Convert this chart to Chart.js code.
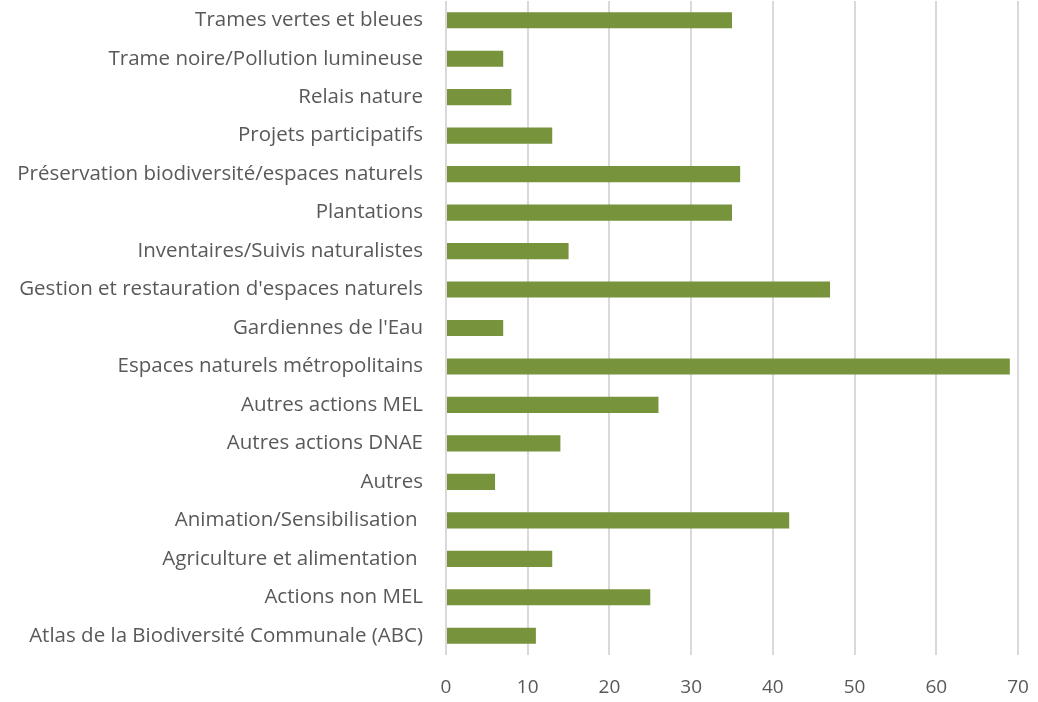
<!DOCTYPE html>
<html>
<head>
<meta charset="utf-8">
<script src="https://cdn.jsdelivr.net/npm/chart.js@4/dist/chart.umd.min.js"></script>
<style>
  html, body { margin: 0; padding: 0; background: #fff; }
  #wrap { width: 1038px; height: 702px; }
</style>
</head>
<body>
<div id="wrap"><canvas id="barChart"></canvas></div>
<script>
const categories = [
  "Trames vertes et bleues",
  "Trame noire/Pollution lumineuse",
  "Relais nature",
  "Projets participatifs",
  "Préservation biodiversité/espaces naturels",
  "Plantations",
  "Inventaires/Suivis naturalistes",
  "Gestion et restauration d'espaces naturels",
  "Gardiennes de l'Eau",
  "Espaces naturels métropolitains",
  "Autres actions MEL",
  "Autres actions DNAE",
  "Autres",
  "Animation/Sensibilisation ",
  "Agriculture et alimentation ",
  "Actions non MEL",
  "Atlas de la Biodiversité Communale (ABC)"
]
const counts = [35, 7, 8, 13, 36, 35, 15, 47, 7, 69, 26, 14, 6, 42, 13, 25, 11]
const xTicks = [0, 10, 20, 30, 40, 50, 60, 70]

const ctx = document.getElementById('barChart').getContext('2d')
const myChart = new Chart(ctx, {
  type: 'bar',
  data: {
    labels: categories,
    datasets: [{
      label: 'Nombre',
      data: counts,
      backgroundColor: '#77933C',
      borderWidth: 0,
      barPercentage: 0.42,
      categoryPercentage: 1
    }]
  },
  options: {
    indexAxis: 'y',
    responsive: true,
    maintainAspectRatio: false,
    animation: false,
    layout: { padding: { top: 1, right: 20, left: 0, bottom: 0 } },
    plugins: {
      legend: { display: false },
      tooltip: { enabled: false }
    },
    scales: {
      x: {
        min: 0,
        max: 70,
        afterBuildTicks: function(scale) {
          scale.ticks = xTicks.map(v => ({ value: v }))
        },
        afterFit: function(scale) {
          scale.height = 47
          scale.paddingLeft = 0
          scale.paddingRight = 0
        },
        border: { display: false },
        grid: { color: '#d9d9d9', lineWidth: 2, drawTicks: false },
        ticks: {
          color: '#595959',
          padding: 21,
          font: { family: 'Open Sans', size: 19 }
        }
      },
      y: {
        afterFit: function(scale) {
          scale.width = 446
          scale.paddingTop = 0
          scale.paddingBottom = 0
        },
        border: { display: false },
        grid: { display: false, drawTicks: false },
        ticks: {
          color: '#595959',
          padding: 23,
          autoSkip: false,
          font: { family: 'Open Sans', size: 20.5 }
        }
      }
    }
  }
})
</script>
</body>
</html>
